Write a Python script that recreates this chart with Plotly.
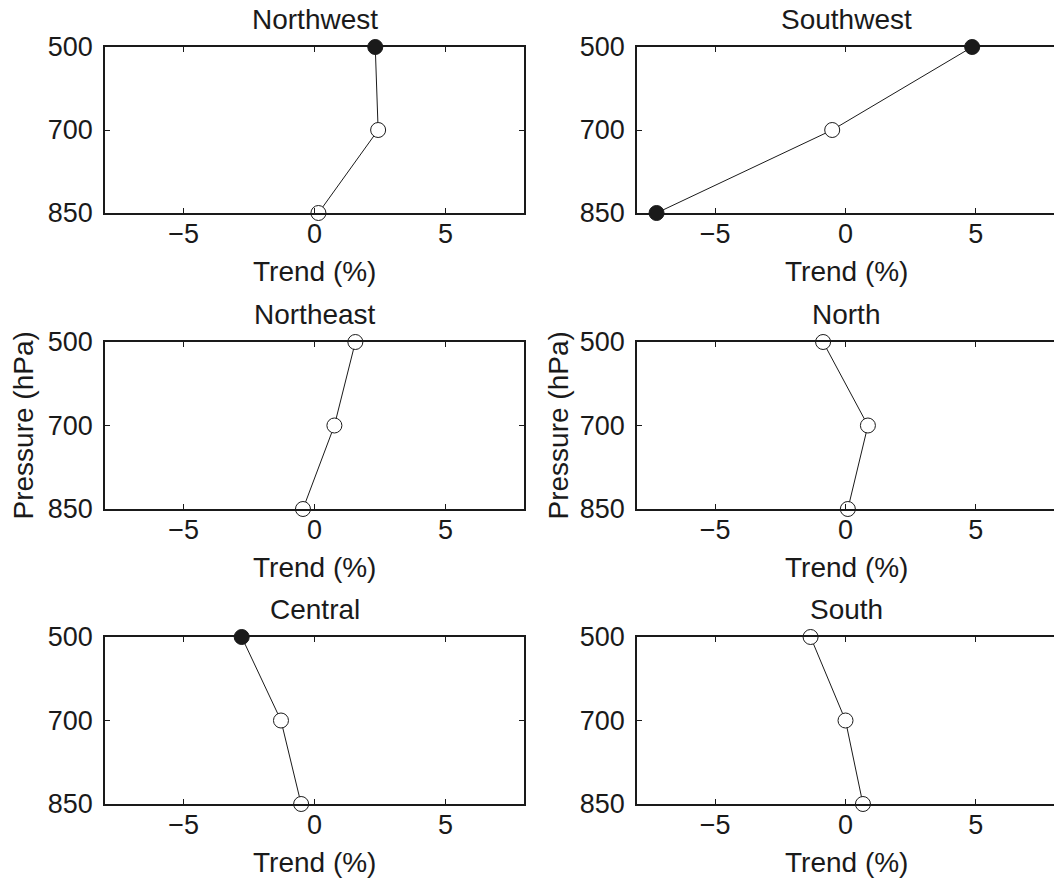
import plotly.graph_objects as go

W, H = 1054, 879

# ---- data ----
regions = ["Northwest", "Southwest", "Northeast", "North", "Central", "South"]
pressure_levels = ["500", "700", "850"]
x_ticks = [-5, 0, 5]

trend_northwest = [2.32, 2.43, 0.15]
trend_southwest = [4.86, -0.51, -7.25]
trend_northeast = [1.56, 0.76, -0.44]
trend_north = [-0.86, 0.86, 0.09]
trend_central = [-2.78, -1.28, -0.51]
trend_south = [-1.34, 0.0, 0.67]

sig_northwest = [True, False, False]
sig_southwest = [True, False, True]
sig_northeast = [False, False, False]
sig_north = [False, False, False]
sig_central = [True, False, False]
sig_south = [False, False, False]

trends = [trend_northwest, trend_southwest, trend_northeast, trend_north, trend_central, trend_south]
sigs = [sig_northwest, sig_southwest, sig_northeast, sig_north, sig_central, sig_south]

# ---- layout geometry (pixels) ----
col_x = [(105, 524), (637, 1054)]
row_y = [(47, 213), (342, 509), (637, 804)]

FONT = "Liberation Sans, Arial, Helvetica, sans-serif"
FS_TICK = 27
FS_TEXT = 28
INK = "#1a1a1a"

fig = go.Figure()
annotations = []

def px2x(p):
    return p / W

def px2y(p):
    return 1 - p / H

for i, (name, tr, sg) in enumerate(zip(regions, trends, sigs)):
    r, c = divmod(i, 2)
    k = i + 1
    xa = "x" if k == 1 else f"x{k}"
    ya = "y" if k == 1 else f"y{k}"
    fig.add_trace(go.Scatter(
        x=tr, y=pressure_levels, xaxis=xa, yaxis=ya,
        mode="lines+markers", cliponaxis=False,
        line=dict(color=INK, width=1),
        marker=dict(size=15, symbol="circle",
                    color=[INK if s else "white" for s in sg],
                    line=dict(color=INK, width=1)),
        showlegend=False, hoverinfo="skip",
    ))
    x0, x1 = col_x[c]
    y0, y1 = row_y[r]
    xkey = "xaxis" if k == 1 else f"xaxis{k}"
    ykey = "yaxis" if k == 1 else f"yaxis{k}"
    fig.update_layout(**{
        xkey: dict(domain=[px2x(x0), min(1.0, px2x(x1))], anchor=ya,
                   range=[-8, 8], tickvals=x_ticks, automargin=False,
                   ticks="inside", ticklen=5, tickwidth=1, tickcolor=INK,
                   showline=True, linewidth=1.8, linecolor=INK,
                   mirror="ticks", showgrid=False, zeroline=False,
                   tickfont=dict(family=FONT, size=FS_TICK, color=INK),
                   ticklabelstandoff=-4, fixedrange=True),
        ykey: dict(domain=[px2y(y1), px2y(y0)], anchor=xa, automargin=False,
                   type="category", categoryorder="array",
                   categoryarray=pressure_levels, range=[2, 0],
                   ticks="inside", ticklen=5, tickwidth=1, tickcolor=INK,
                   showline=True, linewidth=1.8, linecolor=INK,
                   mirror=("ticks" if c == 0 else False),
                   showgrid=False, zeroline=False,
                   tickfont=dict(family=FONT, size=FS_TICK, color=INK),
                   ticklabelstandoff=5, fixedrange=True),
    })
    cx = (x0 + x1) / 2 if c == 0 else (x0 + 1055) / 2
    annotations.append(dict(text=name, x=px2x(cx), y=px2y(y0 - 28),
                            xref="paper", yref="paper", showarrow=False,
                            xanchor="center", yanchor="middle",
                            font=dict(family=FONT, size=FS_TEXT, color=INK)))
    annotations.append(dict(text="Trend (%)", x=px2x(cx), y=px2y(y1 + 58),
                            xref="paper", yref="paper", showarrow=False,
                            xanchor="center", yanchor="middle",
                            font=dict(family=FONT, size=FS_TEXT, color=INK)))

# y axis titles on the middle row
for px_x in (23, 558):
    annotations.append(dict(text="Pressure (hPa)", x=px2x(px_x),
                            y=px2y((row_y[1][0] + row_y[1][1]) / 2),
                            xref="paper", yref="paper", showarrow=False,
                            textangle=-90, xanchor="center", yanchor="middle",
                            font=dict(family=FONT, size=FS_TEXT, color=INK)))

fig.update_layout(
    template="none",
    width=W, height=H,
    margin=dict(l=0, r=0, t=0, b=0, autoexpand=False),
    paper_bgcolor="white", plot_bgcolor="white",
    annotations=annotations,
    showlegend=False,
)

fig.write_html("out.html", config={"displayModeBar": False})
